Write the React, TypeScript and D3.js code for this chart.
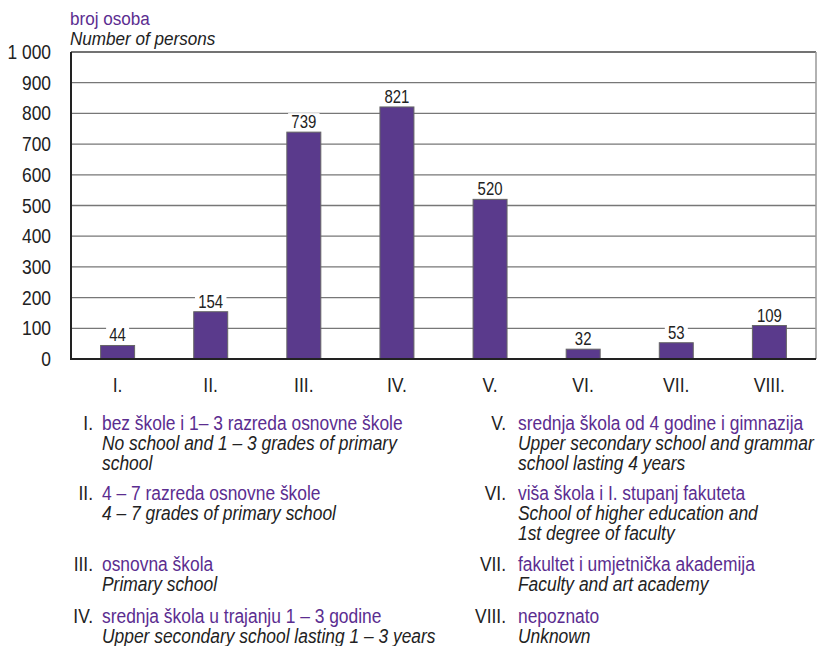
import React from 'react';
import * as d3 from 'd3';

const categories = ['I.', 'II.', 'III.', 'IV.', 'V.', 'VI.', 'VII.', 'VIII.'];
const values = [44, 154, 739, 821, 520, 32, 53, 109];
const yTicks = [0, 100, 200, 300, 400, 500, 600, 700, 800, 900, 1000];

// legend entries: numeral, local name, english lines
const legendLeft = [
  { num: 'I.', hr: 'bez škole i 1– 3 razreda osnovne škole', en: ['No school and 1 – 3 grades of primary', 'school'] },
  { num: 'II.', hr: '4 – 7 razreda osnovne škole', en: ['4 – 7 grades of primary school'] },
  { num: 'III.', hr: 'osnovna škola', en: ['Primary school'] },
  { num: 'IV.', hr: 'srednja škola u trajanju 1 – 3 godine', en: ['Upper secondary school lasting 1 – 3 years'] },
];
const legendRight = [
  { num: 'V.', hr: 'srednja škola od 4 godine i gimnazija', en: ['Upper secondary school and grammar', 'school lasting 4 years'] },
  { num: 'VI.', hr: 'viša škola i I. stupanj fakuteta', en: ['School of higher education and', '1st degree of faculty'] },
  { num: 'VII.', hr: 'fakultet i umjetnička akademija', en: ['Faculty and art academy'] },
  { num: 'VIII.', hr: 'nepoznato', en: ['Unknown'] },
];
const legendRows = [430, 500, 571, 623];

const PURPLE = '#5b2d90';
const BAR = '#5a3a8c';
const INK = '#222';
const FONT = '"Liberation Sans", Arial, sans-serif';

// condensed text: the original uses a narrow Helvetica
const T: React.FC<{
  x: number; y: number; size: number; sx: number; anchor?: string; fill?: string; italic?: boolean; children: React.ReactNode;
}> = ({ x, y, size, sx, anchor = 'start', fill = INK, italic, children }) => (
  <text
    transform={`translate(${x},${y}) scale(${sx},1)`}
    fontSize={size}
    textAnchor={anchor}
    fill={fill}
    fontStyle={italic ? 'italic' : 'normal'}
  >
    {children}
  </text>
);

const App: React.FC = () => {
  const width = 819;
  const height = 646;
  const m = { left: 71, right: 816, top: 52, bottom: 359 };

  const x = d3.scaleBand<string>().domain(categories).range([m.left, m.right]).paddingInner(0.635).paddingOuter(0.318);
  const y = d3.scaleLinear().domain([0, 1000]).range([m.bottom, m.top]);
  const step = x.step();

  const legend = (items: typeof legendLeft, numX: number, txtX: number) =>
    items.map((it, i) => {
      const y0 = legendRows[i];
      return (
        <g key={it.num}>
          <T x={numX} y={y0} size={20} sx={0.87} anchor="end">{it.num}</T>
          <T x={txtX} y={y0} size={20} sx={0.87} fill={PURPLE}>{it.hr}</T>
          {it.en.map((line, j) => (
            <T key={j} x={txtX} y={y0 + 20 * (j + 1)} size={20} sx={0.87} italic>{line}</T>
          ))}
        </g>
      );
    });

  return (
    <svg width={width} height={height} style={{ position: 'absolute', left: 0, top: 0 }} fontFamily={FONT}>
      <rect width={width} height={height} fill="#fff" />
      <T x={70} y={25} size={19} sx={0.9} fill={PURPLE}>broj osoba</T>
      <T x={70} y={45} size={19} sx={0.9} italic>Number of persons</T>

      {yTicks.map((t) => (
        <g key={t}>
          {t > 0 && (
            <line x1={m.left} x2={m.right} y1={y(t)} y2={y(t)} stroke={t === 1000 ? '#444' : '#777'} strokeWidth={1.3} />
          )}
          <T x={51} y={y(t) + 7} size={20} sx={0.87} anchor="end">
            {d3.format(',')(t).replace(',', ' ')}
          </T>
        </g>
      ))}
      <line x1={m.right} x2={m.right} y1={m.top} y2={m.bottom} stroke="#999" strokeWidth={1.5} />

      {categories.map((c, i) => {
        const bx = x(c)!;
        const bw = x.bandwidth();
        const top = y(values[i]);
        const label = String(values[i]);
        const lw = label.length * 8.5 + 6;
        return (
          <g key={c}>
            <rect x={bx} y={top} width={bw} height={m.bottom - top} fill={BAR} stroke="#666" strokeWidth={1} />
            <rect x={bx + bw / 2 - lw / 2} y={top - 19} width={lw} height={17} fill="#fff" />
            <T x={bx + bw / 2} y={top - 4} size={18} sx={0.83} anchor="middle">{label}</T>
            <T x={m.left + step * (i + 0.5)} y={392} size={21} sx={0.84} anchor="middle">{c}</T>
          </g>
        );
      })}

      <line x1={m.left} x2={m.left} y1={m.top} y2={m.bottom + 1} stroke={INK} strokeWidth={2} />
      <line x1={m.left} x2={m.right} y1={m.bottom} y2={m.bottom} stroke={INK} strokeWidth={2} />

      {legend(legendLeft, 93, 102)}
      {legend(legendRight, 506, 518)}
    </svg>
  );
};

export default App;
